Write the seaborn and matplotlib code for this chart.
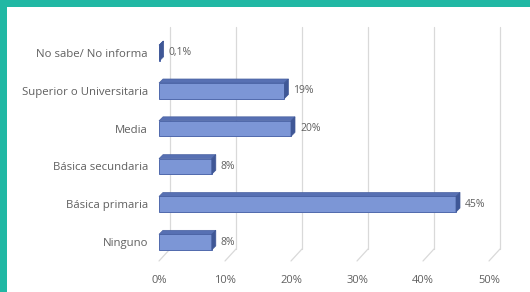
import matplotlib
matplotlib.use("Agg")
import matplotlib.pyplot as plt
import matplotlib.transforms as mtransforms
from matplotlib.patches import Polygon, Rectangle
from matplotlib.lines import Line2D
import seaborn as sns
import pandas as pd

categories = ["No sabe/ No informa", "Superior o Universitaria", "Media",
              "Básica secundaria", "Básica primaria", "Ninguno"]
values = [0.1, 19, 20, 8, 45, 8]
value_labels = ["0,1%", "19%", "20%", "8%", "45%", "8%"]
x_ticks = [0, 10, 20, 30, 40, 50]
x_tick_labels = ["0%", "10%", "20%", "30%", "40%", "50%"]

sns.set_theme(style="white")
plt.rcParams["font.family"] = ["Open Sans", "DejaVu Sans"]

W, H = 530, 292
fig = plt.figure(figsize=(W / 100, H / 100), dpi=100)
fig.patch.set_facecolor("#21b8a4")
fig.add_artist(Rectangle((7 / W, 0), 1, 1 - 7 / H, transform=fig.transFigure,
                         facecolor="white", edgecolor="none", zorder=0))

ax = fig.add_axes([159 / W, 31 / H, (489 - 159) / W, (261 - 34) / H])
ax.set_facecolor("none")

df = pd.DataFrame({"cat": categories, "val": values})
sns.barplot(data=df, x="val", y="cat", orient="h", ax=ax, width=0.41,
            color="#7c96d6", saturation=1, edgecolor="#5069ad", linewidth=0.7,
            zorder=3)

ax.set_xlim(0, 50)
ax.set_ylim(len(categories) - 0.5, -0.5)
ax.set_xticks(x_ticks)
ax.set_xticklabels(x_tick_labels)
ax.set_xlabel("")
ax.set_ylabel("")
for s in ax.spines.values():
    s.set_visible(False)
ax.tick_params(axis="x", length=0, pad=10, labelsize=8, labelcolor="#606060")
ax.tick_params(axis="y", length=0, pad=8, labelsize=8.2, labelcolor="#606060")

# 3D-like back wall gridlines and floor lines
trans_back = ax.get_xaxis_transform() + mtransforms.ScaledTranslation(11 / 100, 12 / 100, fig.dpi_scale_trans)
trans_front = ax.get_xaxis_transform()
for xt in x_ticks:
    ax.add_line(Line2D([xt, xt], [0, 0.98], transform=trans_back,
                       color="#d9d9d9", lw=0.9, zorder=1, clip_on=False))
    p_back = trans_back.transform((xt, 0))
    p_front = trans_front.transform((xt, 0))
    ax.add_line(Line2D([p_back[0], p_front[0]], [p_back[1], p_front[1]],
                       transform=None, color="#d9d9d9", lw=0.9, zorder=1,
                       clip_on=False))

# 3D faces on bars
fig.canvas.draw()
ddx, ddy = 4, 4
for patch, lab in zip(ax.patches, value_labels):
    bb = patch.get_window_extent()
    x0, x1, y0, y1 = bb.x0, bb.x1, bb.y0, bb.y1
    top = Polygon([(x0, y1), (x1, y1), (x1 + ddx, y1 + ddy), (x0 + ddx, y1 + ddy)],
                  closed=True, transform=None, facecolor="#5770b3",
                  edgecolor="#4a62a2", lw=0.5, zorder=4)
    side = Polygon([(x1, y0), (x1, y1), (x1 + ddx, y1 + ddy), (x1 + ddx, y0 + ddy)],
                   closed=True, transform=None, facecolor="#3f5796",
                   edgecolor="#3f5796", lw=0.5, zorder=4)
    fig.add_artist(top)
    fig.add_artist(side)
    yc = patch.get_y() + patch.get_height() / 2
    ax.annotate(lab, xy=(patch.get_x() + patch.get_width(), yc),
                xytext=(6.5, 0), textcoords="offset points",
                ha="left", va="center", fontsize=7.5, color="#606060", zorder=5)

fig.savefig("out.png", dpi=100, facecolor=fig.get_facecolor())
